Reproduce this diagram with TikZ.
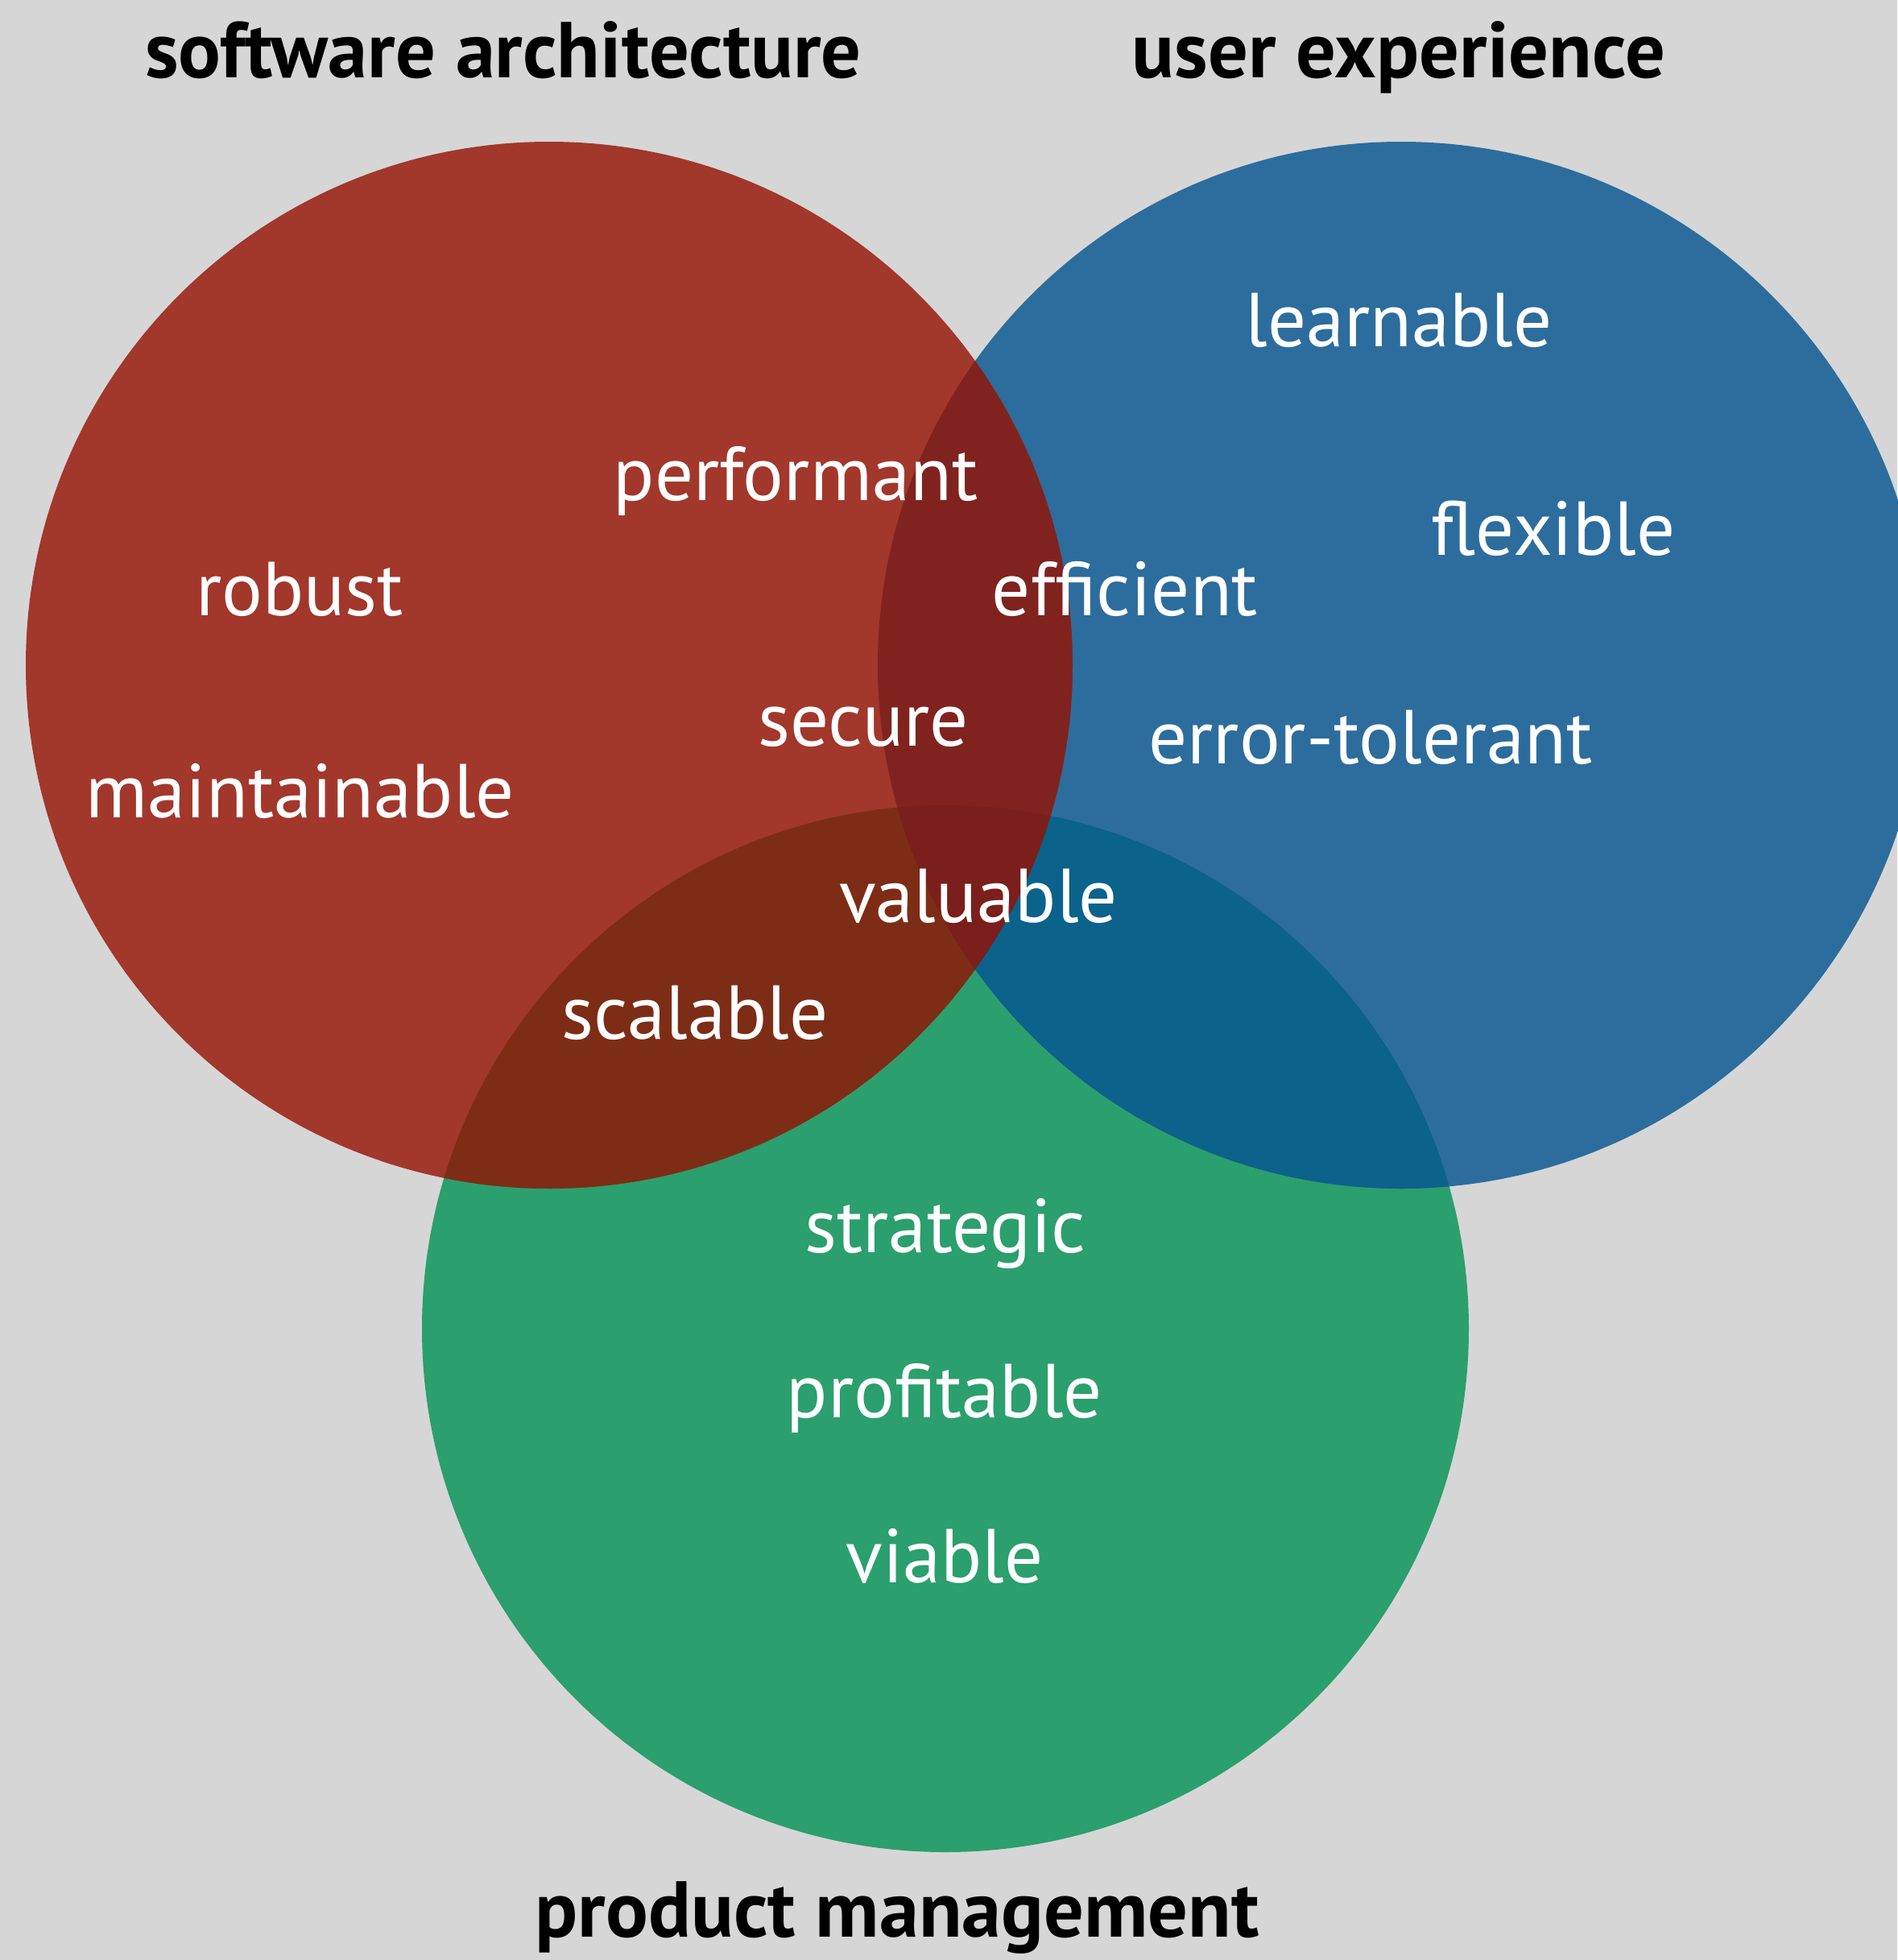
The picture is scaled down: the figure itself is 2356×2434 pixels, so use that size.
\documentclass[tikz,border=0pt]{standalone}
\usepackage{fontspec}
\setmainfont{PT Sans}
\definecolor{bg}{HTML}{D6D6D6}
\definecolor{cred}{HTML}{A2372C}
\definecolor{cblue}{HTML}{2C6D9D}
\definecolor{cgreen}{HTML}{2B9F6D}
\definecolor{crb}{HTML}{80231F}
\definecolor{crg}{HTML}{7D2D16}
\definecolor{cbg}{HTML}{0B628B}
\definecolor{crbg}{HTML}{7A1F1C}
\tikzset{
  lbl/.style={text=white, font=\fontsize{27}{27}\selectfont, anchor=base, inner sep=0pt},
  ttl/.style={text=black, font=\bfseries\fontsize{28}{28}\selectfont, anchor=base, inner sep=0pt},
}
\begin{document}
\begin{tikzpicture}[x=0.1mm,y=-0.1mm]
\fill[bg] (0,0) rectangle (2356,2434);
\useasboundingbox (0,0) rectangle (2356,2434);
\coordinate (R) at (682,826);
\coordinate (B) at (1740,826);
\coordinate (G) at (1174,1650);
\def\rr{65mm}
\fill[cgreen] (G) circle[radius=\rr];
\fill[cblue] (B) circle[radius=\rr];
\fill[cred] (R) circle[radius=\rr];
\begin{scope}
  \clip (B) circle[radius=\rr];
  \fill[cbg] (G) circle[radius=\rr];
\end{scope}
\begin{scope}
  \clip (R) circle[radius=\rr];
  \fill[crg] (G) circle[radius=\rr];
\end{scope}
\begin{scope}
  \clip (R) circle[radius=\rr];
  \fill[crb] (B) circle[radius=\rr];
\end{scope}
\begin{scope}
  \clip (R) circle[radius=\rr];
  \clip (B) circle[radius=\rr];
  \fill[crbg] (G) circle[radius=\rr];
\end{scope}
\node[ttl] (t1) at (625,96) {software architecture};
\node[ttl] (t2) at (1737,96) {user experience};
\node[ttl] (t3) at (1114,2405) {product management};
\node[lbl] (l1) at (1737,430) {learnable};
\node[lbl] (l2) at (988,621) {performant};
\node[lbl] (l3) at (1929,689) {flexible};
\node[lbl] (l4) at (372,764) {robust};
\node[lbl] (l5) at (1397,764) {efficient};
\node[lbl] (l6) at (1072,926) {secure};
\node[lbl] (l7) at (1702,948) {error-tolerant};
\node[lbl] (l8) at (373,1015) {maintainable};
\node[lbl] (l9) at (1215,1145) {valuable};
\node[lbl] (l10) at (863,1290) {scalable};
\node[lbl] (l11) at (1174,1555) {strategic};
\node[lbl] (l12) at (1173,1760) {profitable};
\node[lbl] (l13) at (1173,1965) {viable};
\end{tikzpicture}
\end{document}
